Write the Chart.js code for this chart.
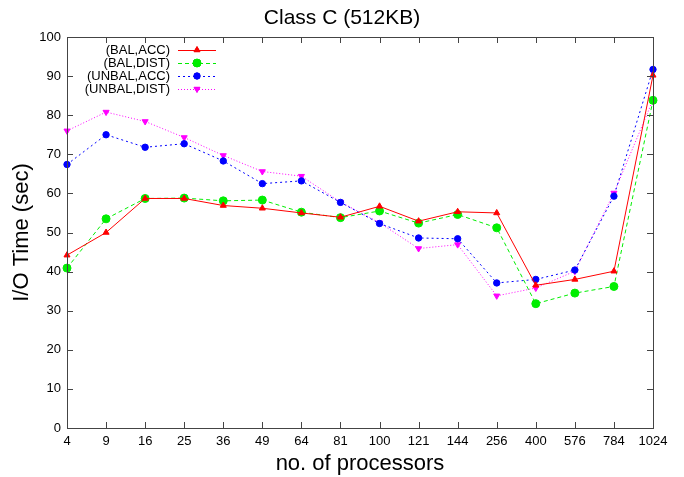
<!DOCTYPE html>
<html>
<head>
<meta charset="utf-8">
<script src="https://cdn.jsdelivr.net/npm/chart.js@4.4.1/dist/chart.umd.min.js"></script>
<style>
  html, body { margin: 0; padding: 0; background: #fff; }
  #wrap { width: 684px; height: 477px; }
</style>
</head>
<body>
<div id="wrap"><canvas id="chart"></canvas></div>
<script>
// processor counts along the x axis
const processors = ['4', '9', '16', '25', '36', '49', '64', '81', '100', '121', '144', '256', '400', '576', '784', '1024'];

// I/O time in seconds
const balAcc    = [44.2, 50.0, 58.7, 58.7, 56.9, 56.2, 55.0, 53.9, 56.7, 52.9, 55.3, 55.0, 36.5, 38.0, 40.1, 90.2];
const balDist   = [40.9, 53.5, 58.7, 58.8, 58.1, 58.3, 55.2, 53.8, 55.5, 52.4, 54.6, 51.2, 31.8, 34.5, 36.2, 83.8];
const unbalAcc  = [67.4, 75.0, 71.8, 72.7, 68.3, 62.5, 63.2, 57.7, 52.3, 48.6, 48.4, 37.1, 38.0, 40.4, 59.3, 91.7];
const unbalDist = [76.0, 80.8, 78.4, 74.3, 69.7, 65.6, 64.4, 57.8, 52.5, 45.9, 46.9, 33.8, 35.8, 40.1, 60.1, 83.9];

const yTicks = [0, 10, 20, 30, 40, 50, 60, 70, 80, 90, 100];

const FONT = '"Liberation Sans", Arial, sans-serif';

// gnuplot style: title, axes box with inward ticks on every side, and a key in the upper left
const frame = {
    id: 'frame',
    afterDraw(chart) {
        const { ctx, chartArea: a, scales } = chart;
        const len = 6;
        ctx.save();

        ctx.fillStyle = '#000';
        ctx.font = '21px ' + FONT;
        ctx.textAlign = 'center';
        ctx.textBaseline = 'middle';
        ctx.fillText('Class C (512KB)', chart.width / 2, 18);

        ctx.strokeStyle = '#444';
        ctx.lineWidth = 1;
        ctx.strokeRect(a.left + 0.5, a.top + 0.5, a.right - a.left, a.bottom - a.top);
        ctx.beginPath();
        scales.x.ticks.forEach((t, i) => {
            const x = Math.round(scales.x.getPixelForTick(i)) + 0.5;
            ctx.moveTo(x, a.bottom); ctx.lineTo(x, a.bottom - len);
            ctx.moveTo(x, a.top); ctx.lineTo(x, a.top + len);
        });
        scales.y.ticks.forEach(t => {
            const y = Math.round(scales.y.getPixelForValue(t.value)) + 0.5;
            ctx.moveTo(a.left, y); ctx.lineTo(a.left + len, y);
            ctx.moveTo(a.right, y); ctx.lineTo(a.right - len, y);
        });
        ctx.stroke();

        // key
        ctx.font = '13px ' + FONT;
        ctx.textAlign = 'right';
        chart.data.datasets.forEach((ds, i) => {
            const y = 50 + i * 13;
            ctx.fillStyle = '#000';
            ctx.fillText(ds.label, 170, y);
            ctx.strokeStyle = ds.borderColor;
            ctx.setLineDash(ds.borderDash || []);
            ctx.beginPath();
            ctx.moveTo(178, y + 0.5); ctx.lineTo(216, y + 0.5);
            ctx.stroke();
            ctx.setLineDash([]);
            Chart.helpers.drawPoint(ctx, {
                pointStyle: ds.pointStyle,
                rotation: ds.pointRotation || 0,
                radius: ds.pointRadius,
                borderWidth: 1
            }, 197, y);
            ctx.fillStyle = ds.pointBackgroundColor;
            ctx.strokeStyle = ds.pointBackgroundColor;
            ctx.fill();
        });
        ctx.restore();
    }
};

function series(label, data, color, dash, style, radius, rotation) {
    return {
        label: label,
        data: data,
        borderColor: color,
        borderWidth: 1,
        borderDash: dash,
        backgroundColor: color,
        pointBackgroundColor: color,
        pointBorderColor: color,
        pointStyle: style,
        pointRadius: radius,
        pointRotation: rotation,
        pointBorderWidth: 1,
        tension: 0,
        fill: false
    };
}

new Chart(document.getElementById('chart'), {
    type: 'line',
    data: {
        labels: processors,
        datasets: [
            series('(BAL,ACC)', balAcc, '#ff0000', [], 'triangle', 3.5, 0),
            series('(BAL,DIST)', balDist, '#00ee00', [4, 3], 'circle', 4, 0),
            series('(UNBAL,ACC)', unbalAcc, '#0000ff', [2, 3], 'circle', 3.2, 0),
            series('(UNBAL,DIST)', unbalDist, '#ff00ff', [1, 2], 'triangle', 3.5, 180)
        ]
    },
    options: {
        responsive: true,
        maintainAspectRatio: false,
        animation: false,
        layout: { padding: { left: 0, right: 31, top: 37, bottom: 0 } },
        plugins: {
            legend: { display: false },
            tooltip: { enabled: false },
            title: { display: false }
        },
        scales: {
            x: {
                offset: false,
                grid: { display: false, drawTicks: false },
                border: { display: false },
                ticks: {
                    color: '#000',
                    font: { family: FONT, size: 13 },
                    padding: 6,
                    maxRotation: 0,
                    autoSkip: false
                },
                title: {
                    display: true,
                    text: 'no. of processors',
                    color: '#000',
                    font: { family: FONT, size: 22 },
                    padding: { top: 0, bottom: 0 }
                },
                afterFit(scale) { scale.height = 49; }
            },
            y: {
                min: 0,
                max: 100,
                afterBuildTicks(scale) { scale.ticks = yTicks.map(v => ({ value: v })); },
                grid: { display: false, drawTicks: false },
                border: { display: false },
                ticks: {
                    color: '#000',
                    font: { family: FONT, size: 13 },
                    padding: 6
                },
                title: {
                    display: true,
                    text: 'I/O Time (sec)',
                    color: '#000',
                    font: { family: FONT, size: 22 },
                    padding: { top: 9, bottom: 0 }
                },
                afterFit(scale) { scale.width = 67; }
            }
        }
    },
    plugins: [frame]
});
</script>
</body>
</html>
